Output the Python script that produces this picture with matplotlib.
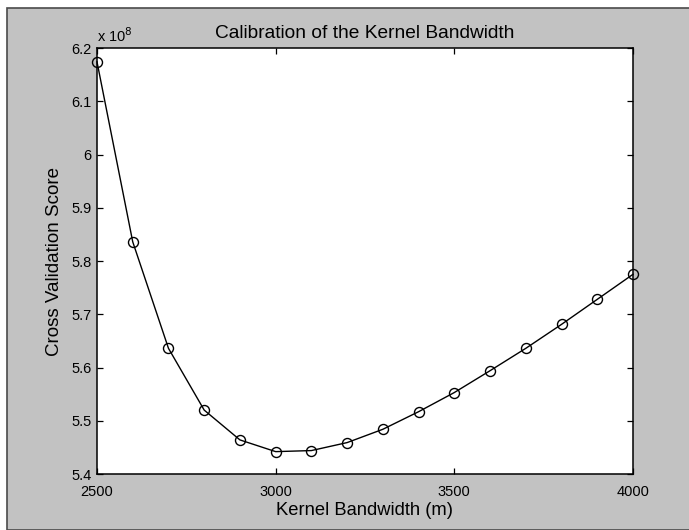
import matplotlib
matplotlib.use("Agg")
import matplotlib.pyplot as plt
from matplotlib.patches import Rectangle

plt.rcParams['font.family'] = ['Liberation Sans', 'DejaVu Sans']

# data (scores in units of 1e8)
bandwidth = [2500, 2600, 2700, 2800, 2900, 3000, 3100, 3200,
             3300, 3400, 3500, 3600, 3700, 3800, 3900, 4000]
cv_score = [6.174, 5.836, 5.636, 5.520, 5.464, 5.442, 5.444, 5.459,
            5.484, 5.517, 5.553, 5.594, 5.636, 5.681, 5.728, 5.775]
x_ticks = [2500, 3000, 3500, 4000]
x_tick_labels = ['2500', '3000', '3500', '4000']
y_ticks = [5.4, 5.5, 5.6, 5.7, 5.8, 5.9, 6.0, 6.1, 6.2]
y_tick_labels = ['5.4', '5.5', '5.6', '5.7', '5.8', '5.9', '6', '6.1', '6.2']

W, H = 689, 530
fig = plt.figure(figsize=(W / 100, H / 100), dpi=100)
fig.patch.set_facecolor('white')
# grey frame background (scanned figure window)
fig.add_artist(Rectangle((7 / W, 0), 1.0, 1 - 8 / H,
                         transform=fig.transFigure, facecolor='#c2c2c2',
                         edgecolor='#4a4a4a', linewidth=1.2, zorder=-10))

ax_l, ax_r, ax_t, ax_b = 97, 633, 48, 474
ax = fig.add_axes([ax_l / W, 1 - ax_b / H, (ax_r - ax_l) / W, (ax_b - ax_t) / H])
ax.set_facecolor('white')

ax.plot(bandwidth, cv_score, color='black', linewidth=1.0,
        marker='o', markersize=7.2, markerfacecolor='none',
        markeredgecolor='black', markeredgewidth=1.0, clip_on=False)

ax.set_xlim(2500, 4000)
ax.set_ylim(5.4, 6.2)
ax.set_xticks(x_ticks)
ax.set_xticklabels(x_tick_labels)
ax.set_yticks(y_ticks)
ax.set_yticklabels(y_tick_labels)
ax.tick_params(direction='in', length=4.5, width=0.9, top=True, right=True,
               labelsize=10.5, colors='black')
ax.tick_params(axis='x', pad=8)
ax.tick_params(axis='y', pad=4)
for s in ax.spines.values():
    s.set_linewidth(1.1)
    s.set_color('black')

ax.set_title('Calibration of the Kernel Bandwidth', fontsize=13.8, pad=7)
ax.set_xlabel('Kernel Bandwidth (m)', fontsize=13.2, labelpad=2)
ax.set_ylabel('Cross Validation Score', fontsize=13.5, labelpad=6)
ax.text(0.0, 1.008, r'x 10$^{8}$', transform=ax.transAxes, fontsize=10.5,
        ha='left', va='bottom')

fig.savefig('out.png', dpi=100, facecolor=fig.get_facecolor())
